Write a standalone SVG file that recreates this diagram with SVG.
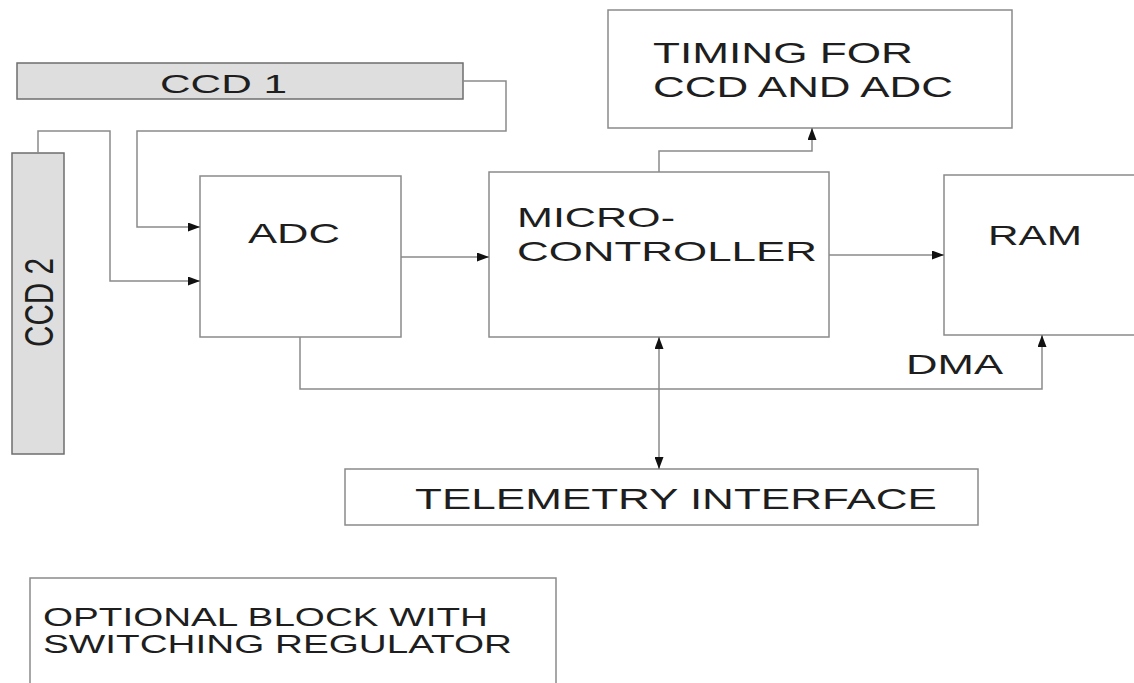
<svg xmlns="http://www.w3.org/2000/svg" width="1134" height="683" viewBox="0 0 1134 683">
<style>
.box{fill:#fff;stroke:#8a8a8a;stroke-width:1.5}
.ccd{fill:#dedede;stroke:#6e6e6e;stroke-width:1.5}
.t{font-family:"Liberation Sans",Arial,sans-serif;fill:#1e1e1e}
.w{fill:none;stroke:#8a8a8a;stroke-width:1.5}
</style>
<defs>
<marker id="ah" viewBox="0 0 12 9" refX="12" refY="4.5" markerWidth="12" markerHeight="9" markerUnits="userSpaceOnUse" orient="auto-start-reverse">
<path d="M0,0 L12,4.5 L0,9 Z" fill="#111"/>
</marker>
</defs>
<rect width="1134" height="683" fill="#fff"/>
<g id="ccd1">
<rect class="ccd" x="17" y="63" width="446" height="36"/>
<text class="t" x="160" y="93" font-size="25" textLength="127" lengthAdjust="spacingAndGlyphs">CCD 1</text>
</g>
<g id="ccd2">
<rect class="ccd" x="12" y="153" width="52" height="301"/>
<text class="t" transform="translate(53,347) rotate(-90)" font-size="41" textLength="89" lengthAdjust="spacingAndGlyphs">CCD 2</text>
</g>
<g id="adc">
<rect class="box" x="200" y="176" width="201" height="161"/>
<text class="t" x="248" y="243" font-size="28" textLength="92" lengthAdjust="spacingAndGlyphs">ADC</text>
</g>
<g id="mc">
<rect class="box" x="489" y="172" width="340" height="165"/>
<text class="t" x="517" y="227" font-size="28" textLength="158" lengthAdjust="spacingAndGlyphs">MICRO-</text>
<text class="t" x="517" y="261" font-size="28" textLength="300" lengthAdjust="spacingAndGlyphs">CONTROLLER</text>
</g>
<g id="timing">
<rect class="box" x="608" y="10" width="404" height="118"/>
<text class="t" x="653" y="63" font-size="29" textLength="260" lengthAdjust="spacingAndGlyphs">TIMING FOR</text>
<text class="t" x="653" y="97" font-size="29" textLength="300" lengthAdjust="spacingAndGlyphs">CCD AND ADC</text>
</g>
<g id="ram">
<rect class="box" x="944" y="175" width="220" height="160"/>
<text class="t" x="988" y="245" font-size="28" textLength="94" lengthAdjust="spacingAndGlyphs">RAM</text>
</g>
<g id="telemetry">
<rect class="box" x="345" y="469" width="633" height="56"/>
<text class="t" x="415" y="509" font-size="30" textLength="522" lengthAdjust="spacingAndGlyphs">TELEMETRY INTERFACE</text>
</g>
<g id="optional">
<rect class="box" x="30" y="578" width="526" height="140"/>
<text class="t" x="43" y="626" font-size="25" textLength="445" lengthAdjust="spacingAndGlyphs">OPTIONAL BLOCK WITH</text>
<text class="t" x="43" y="653" font-size="25" textLength="469" lengthAdjust="spacingAndGlyphs">SWITCHING REGULATOR</text>
</g>
<g id="dma-label">
<text class="t" x="906" y="374" font-size="27" textLength="97" lengthAdjust="spacingAndGlyphs">DMA</text>
</g>
<g id="connectors">
<polyline class="w" points="463,81 506,81 506,131 137,131 137,227 200,227" marker-end="url(#ah)"/>
<polyline class="w" points="38,153 38,131 110,131 110,281 200,281" marker-end="url(#ah)"/>
<line class="w" x1="401" y1="257" x2="489" y2="257" marker-end="url(#ah)"/>
<line class="w" x1="829" y1="255" x2="944" y2="255" marker-end="url(#ah)"/>
<polyline class="w" points="659,172 659,151 812,151 812,128" marker-end="url(#ah)"/>
<polyline class="w" points="300,337 300,389 1042,389 1042,335" marker-end="url(#ah)"/>
<line class="w" x1="659" y1="337" x2="659" y2="469" marker-start="url(#ah)" marker-end="url(#ah)"/>
</g>
</svg>
